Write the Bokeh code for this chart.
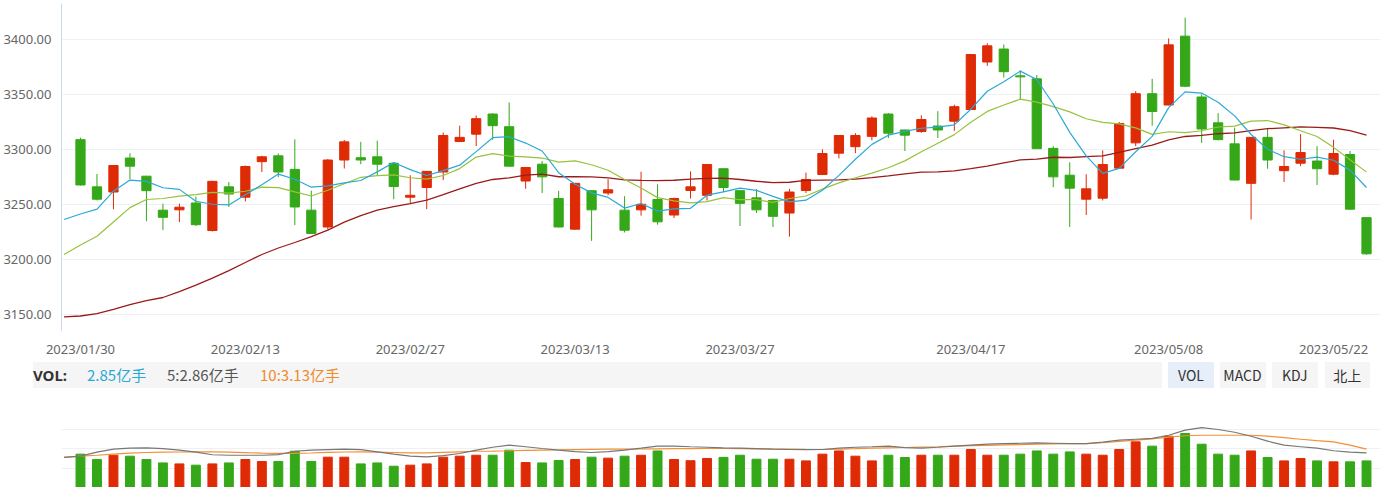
from bokeh.plotting import figure
from bokeh.layouts import column
from bokeh.models import (Range1d, FixedTicker, NumeralTickFormatter, Grid, ColumnDataSource, Div)
from bokeh.embed import file_html
from bokeh.resources import INLINE

# ---------------- data ----------------
dates = ["2023/01/30","2023/01/31","2023/02/01","2023/02/02","2023/02/03","2023/02/06","2023/02/07","2023/02/08","2023/02/09","2023/02/10",
         "2023/02/13","2023/02/14","2023/02/15","2023/02/16","2023/02/17","2023/02/20","2023/02/21","2023/02/22","2023/02/23","2023/02/24",
         "2023/02/27","2023/02/28","2023/03/01","2023/03/02","2023/03/03","2023/03/06","2023/03/07","2023/03/08","2023/03/09","2023/03/10",
         "2023/03/13","2023/03/14","2023/03/15","2023/03/16","2023/03/17","2023/03/20","2023/03/21","2023/03/22","2023/03/23","2023/03/24",
         "2023/03/27","2023/03/28","2023/03/29","2023/03/30","2023/03/31","2023/04/03","2023/04/04","2023/04/06","2023/04/07","2023/04/10",
         "2023/04/11","2023/04/12","2023/04/13","2023/04/14","2023/04/17","2023/04/18","2023/04/19","2023/04/20","2023/04/21","2023/04/24",
         "2023/04/25","2023/04/26","2023/04/27","2023/04/28","2023/05/04","2023/05/05","2023/05/08","2023/05/09","2023/05/10","2023/05/11",
         "2023/05/12","2023/05/15","2023/05/16","2023/05/17","2023/05/18","2023/05/19","2023/05/22","2023/05/23","2023/05/24"]

opens = [3308.8, 3265.9, 3261.2, 3292.1, 3275.6, 3244.7, 3245.0, 3251.2, 3226.2, 3265.9,
         3256.5, 3288.8, 3294.1, 3281.8, 3244.7, 3229.4, 3290.3, 3292.4, 3293.2, 3287.4,
         3256.5, 3265.3, 3279.4, 3307.1, 3313.8, 3332.1, 3320.6, 3271.2, 3286.5, 3255.3,
         3227.4, 3262.4, 3260.3, 3244.7, 3245.0, 3254.4, 3240.3, 3262.6, 3258.2, 3282.4,
         3262.4, 3255.9, 3253.5, 3242.1, 3262.6, 3277.1, 3296.5, 3302.4, 3311.8, 3332.1,
         3317.6, 3316.2, 3321.2, 3325.6, 3336.2, 3379.4, 3391.2, 3366.8, 3364.1, 3300.9,
         3276.5, 3254.7, 3255.6, 3282.9, 3305.9, 3350.6, 3340.3, 3402.9, 3347.6, 3324.1,
         3305.0, 3269.1, 3310.9, 3280.6, 3287.4, 3289.4, 3277.4, 3295.3, 3237.9]
highs = [3310.6, 3277.6, 3285.6, 3296.5, 3275.9, 3250.6, 3250.6, 3257.1, 3271.5, 3270.3,
         3285.3, 3294.1, 3296.2, 3309.1, 3262.4, 3291.2, 3308.5, 3306.8, 3307.9, 3287.6,
         3276.5, 3280.3, 3315.3, 3321.5, 3330.9, 3333.0, 3342.6, 3283.5, 3289.4, 3262.4,
         3269.5, 3262.6, 3272.9, 3257.4, 3279.7, 3268.2, 3256.2, 3280.0, 3286.2, 3282.6,
         3262.6, 3263.8, 3254.4, 3264.1, 3278.8, 3300.0, 3312.8, 3314.7, 3330.0, 3333.0,
         3317.8, 3330.9, 3334.7, 3340.6, 3386.4, 3396.5, 3395.3, 3371.8, 3367.6, 3302.9,
         3288.2, 3277.4, 3299.1, 3325.0, 3352.9, 3364.1, 3400.9, 3419.7, 3350.0, 3332.9,
         3319.7, 3311.0, 3319.1, 3299.1, 3313.8, 3302.9, 3308.8, 3298.5, 3238.0]
lows = [3267.1, 3253.5, 3245.6, 3272.9, 3234.7, 3226.5, 3233.8, 3230.3, 3225.3, 3247.6,
        3252.6, 3279.4, 3274.7, 3231.2, 3223.0, 3227.1, 3282.6, 3286.5, 3276.5, 3254.7,
        3251.2, 3245.6, 3272.1, 3307.0, 3302.9, 3308.8, 3284.5, 3264.1, 3260.3, 3229.0,
        3227.0, 3216.8, 3258.2, 3224.4, 3239.7, 3231.5, 3237.6, 3255.3, 3253.5, 3261.2,
        3230.3, 3242.1, 3229.4, 3220.6, 3260.3, 3277.0, 3291.8, 3296.5, 3308.2, 3310.3,
        3298.5, 3315.0, 3310.3, 3316.8, 3336.0, 3375.9, 3365.3, 3345.6, 3300.5, 3265.6,
        3229.4, 3240.3, 3253.5, 3282.8, 3302.9, 3321.5, 3340.0, 3356.5, 3305.9, 3308.2,
        3272.0, 3236.2, 3282.4, 3270.3, 3284.7, 3267.6, 3276.5, 3245.0, 3204.1]
closes = [3267.6, 3254.7, 3285.3, 3284.7, 3262.4, 3238.2, 3247.4, 3231.5, 3270.9, 3259.4,
          3284.4, 3293.2, 3279.4, 3247.6, 3223.5, 3290.3, 3306.8, 3290.3, 3286.5, 3266.2,
          3258.2, 3280.0, 3312.6, 3310.9, 3327.9, 3321.5, 3284.7, 3283.5, 3275.0, 3229.4,
          3269.1, 3245.0, 3263.2, 3226.5, 3250.0, 3234.1, 3255.3, 3265.9, 3286.2, 3265.3,
          3250.9, 3245.0, 3239.1, 3261.2, 3272.6, 3296.2, 3312.6, 3312.6, 3328.5, 3314.7,
          3312.9, 3327.1, 3317.6, 3338.8, 3386.2, 3394.1, 3370.6, 3365.9, 3300.6, 3275.0,
          3264.7, 3264.1, 3286.2, 3323.5, 3350.6, 3334.4, 3395.0, 3357.4, 3318.5, 3308.8,
          3272.1, 3310.9, 3290.3, 3284.4, 3297.1, 3282.4, 3296.2, 3245.6, 3205.0]

# moving-average lines (first point is the day before the visible window)
ma_x = list(range(-1, 79))
ma5 = [3236.2, 3241.2, 3245.6, 3262.0, 3272.1, 3270.9, 3265.1, 3263.6, 3252.8, 3250.1,
       3249.5, 3258.7, 3267.9, 3277.5, 3272.8, 3265.6, 3266.8, 3269.5, 3271.7, 3279.5,
       3288.0, 3281.6, 3276.2, 3280.7, 3285.6, 3297.9, 3310.6, 3311.5, 3305.7, 3298.5,
       3278.8, 3268.3, 3260.4, 3256.3, 3246.6, 3250.8, 3243.8, 3245.8, 3246.4, 3258.3,
       3261.4, 3264.7, 3262.7, 3257.3, 3252.3, 3253.8, 3262.8, 3276.3, 3291.0, 3304.5,
       3312.9, 3316.3, 3319.2, 3320.2, 3322.2, 3336.5, 3352.8, 3361.5, 3371.1, 3363.5,
       3341.2, 3315.4, 3294.1, 3278.1, 3282.7, 3297.8, 3311.8, 3337.9, 3352.2, 3351.2,
       3342.8, 3330.4, 3313.5, 3300.1, 3293.3, 3291.0, 3293.0, 3290.1, 3281.1, 3265.3]
ma10 = [3204.4, 3213.0, 3221.0, 3234.0, 3247.0, 3254.4, 3255.3, 3257.4, 3258.8, 3260.9,
        3260.2, 3261.9, 3265.7, 3265.2, 3261.4, 3257.6, 3262.8, 3268.7, 3274.6, 3276.1,
        3276.8, 3274.2, 3272.9, 3276.2, 3282.5, 3293.0, 3296.1, 3293.9, 3293.2, 3292.1,
        3288.4, 3289.5, 3286.0, 3281.0, 3272.6, 3264.8, 3256.1, 3253.1, 3251.4, 3252.5,
        3256.1, 3254.2, 3254.2, 3251.8, 3255.3, 3257.6, 3263.8, 3269.5, 3274.2, 3278.4,
        3283.3, 3289.5, 3297.8, 3305.6, 3313.4, 3324.7, 3334.5, 3340.3, 3345.6, 3342.9,
        3338.9, 3334.1, 3327.8, 3324.6, 3323.1, 3319.5, 3313.6, 3316.0, 3315.2, 3316.9,
        3320.3, 3321.1, 3325.7, 3326.2, 3322.2, 3316.9, 3311.7, 3301.8, 3290.6, 3279.3]
ma30 = [3147.6, 3148.5, 3150.6, 3154.4, 3158.8, 3162.4, 3165.3, 3170.6, 3176.5, 3182.9,
        3189.7, 3197.1, 3204.4, 3210.3, 3215.3, 3220.6, 3226.5, 3233.8, 3239.7, 3244.7,
        3247.9, 3250.6, 3253.8, 3258.8, 3264.1, 3269.1, 3272.6, 3274.1, 3276.5, 3277.4,
        3275.1, 3275.2, 3274.9, 3274.1, 3272.2, 3271.8, 3271.6, 3271.9, 3273.0, 3273.6,
        3273.8, 3272.6, 3271.0, 3269.7, 3270.1, 3271.8, 3272.0, 3272.2, 3272.9, 3274.3,
        3275.9, 3277.7, 3279.3, 3279.5, 3280.4, 3282.4, 3284.8, 3287.6, 3290.4, 3291.2,
        3292.8, 3292.6, 3293.3, 3294.0, 3297.3, 3300.6, 3303.9, 3308.6, 3311.7, 3312.7,
        3314.2, 3314.9, 3317.1, 3318.8, 3319.6, 3320.4, 3320.0, 3319.4, 3317.1, 3313.0]

# volume (亿手)
volumes = [3.42, 2.87, 3.31, 3.21, 2.87, 2.52, 2.42, 2.29, 2.42, 2.52,
           2.87, 2.67, 2.67, 3.72, 2.67, 3.11, 3.11, 2.42, 2.52, 2.18,
           2.29, 2.42, 3.11, 3.21, 3.31, 3.31, 3.83, 2.56, 2.52, 2.77,
           2.87, 3.11, 3.01, 3.21, 3.31, 3.75, 2.87, 2.75, 2.98, 3.09,
           3.31, 2.90, 2.90, 2.90, 2.73, 3.42, 3.75, 3.21, 2.73, 3.31,
           3.08, 3.31, 3.31, 3.31, 3.90, 3.31, 3.31, 3.42, 3.75, 3.42,
           3.65, 3.42, 3.31, 3.90, 4.68, 4.24, 5.26, 5.54, 4.44, 3.42,
           3.31, 3.75, 3.08, 2.73, 2.97, 2.73, 2.63, 2.63, 2.73]
vol_ma5 = [3.08, 3.21, 3.62, 3.93, 4.03, 4.06, 3.98, 3.83, 3.62, 3.36,
           3.31, 3.31, 3.31, 3.38, 3.72, 3.83, 3.88, 3.93, 3.88, 3.65,
           3.42, 3.21, 3.14, 3.26, 3.49, 3.83, 4.13, 4.34, 4.18, 4.00,
           3.83, 3.67, 3.59, 3.67, 3.83, 4.03, 4.24, 4.24, 4.18, 4.13,
           4.06, 4.03, 3.98, 3.93, 3.90, 3.88, 3.90, 4.03, 4.13, 4.18,
           4.24, 4.08, 4.03, 4.13, 4.24, 4.34, 4.44, 4.49, 4.54, 4.57,
           4.54, 4.51, 4.51, 4.65, 4.85, 4.95, 5.03, 5.36, 5.88, 6.15,
           5.95, 5.67, 5.26, 4.75, 4.34, 4.18, 4.03, 3.77, 3.62, 3.55]
vol_ma10 = [3.08, 3.21, 3.31, 3.42, 3.52, 3.59, 3.62, 3.64, 3.65, 3.65,
            3.62, 3.57, 3.52, 3.49, 3.49, 3.54, 3.60, 3.64, 3.65, 3.62,
            3.59, 3.56, 3.55, 3.60, 3.66, 3.72, 3.74, 3.77, 3.81, 3.83,
            3.85, 3.88, 3.91, 3.93, 3.93, 3.95, 3.97, 3.98, 3.99, 4.00,
            4.00, 3.99, 3.97, 3.95, 3.93, 3.91, 3.90, 3.94, 3.98, 4.03,
            4.07, 4.10, 4.14, 4.18, 4.24, 4.29, 4.33, 4.37, 4.40, 4.44,
            4.47, 4.49, 4.51, 4.59, 4.73, 4.85, 4.99, 5.16, 5.31, 5.36,
            5.36, 5.36, 5.36, 5.26, 5.11, 4.95, 4.80, 4.68, 4.34, 3.93]

price_ticks = [3150, 3200, 3250, 3300, 3350, 3400]
vol_ticks = [0, 2, 4, 6, 8]
date_tick_idx = [0, 10, 20, 30, 40, 54, 66, 76]

header_label = "VOL:"
header_values = ["2.85亿手", "5:2.86亿手", "10:3.13亿手"]
buttons = ["VOL", "MACD", "KDJ", "北上"]

# ---------------- styles ----------------
RED = "#df2a06"
GREEN = "#34a818"
C_MA5 = "#2aa9d6"
C_MA10 = "#97c23c"
C_MA30 = "#9b1b1b"
C_VMA5 = "#777777"
C_VMA10 = "#f39035"
GRID = "#edf1f5"
LABEL = "#666666"
FONT = "Noto Sans"
CJK = "Noto Sans CJK SC"

W = 1380
xs = list(range(len(closes)))
colors = [RED if c >= o else GREEN for o, c in zip(opens, closes)]
src = ColumnDataSource(dict(
    x=xs, open=opens, high=highs, low=lows, close=closes,
    top=[max(o, c) for o, c in zip(opens, closes)],
    bottom=[min(o, c) for o, c in zip(opens, closes)],
    color=colors, vol=volumes,
))

x_range = Range1d(-1.1515, 78.848)

# ---------------- main candlestick ----------------
p = figure(width=W, height=360, x_range=x_range, y_range=Range1d(3135.3, 3432.6),
           output_backend="svg", toolbar_location=None,
           min_border_left=60, min_border_right=0, min_border_top=3, min_border_bottom=20)
p.outline_line_color = None
p.background_fill_color = "white"
p.xgrid.visible = False
p.ygrid.ticker = FixedTicker(ticks=price_ticks)
p.ygrid.grid_line_color = GRID
p.ygrid.grid_line_width = 1

p.yaxis.ticker = FixedTicker(ticks=price_ticks)
p.yaxis.formatter = NumeralTickFormatter(format="0.00")
p.yaxis.axis_line_color = "#c9d8ec"
p.yaxis.major_tick_line_color = None
p.yaxis.minor_tick_line_color = None
p.yaxis.major_label_text_font = FONT
p.yaxis.major_label_text_font_size = "13px"
p.yaxis.major_label_text_color = LABEL
p.yaxis.major_label_standoff = 4

p.xaxis.ticker = FixedTicker(ticks=date_tick_idx)
p.xaxis.major_label_overrides = {i: dates[i] for i in date_tick_idx}
p.xaxis.axis_line_color = None
p.xaxis.major_tick_line_color = None
p.xaxis.minor_tick_line_color = None
p.xaxis.major_label_text_font = FONT
p.xaxis.major_label_text_font_size = "13px"
p.xaxis.major_label_text_color = LABEL
p.xaxis.major_label_standoff = 3

p.segment(x0="x", y0="low", x1="x", y1="high", line_color="color", line_width=1, source=src)
p.vbar(x="x", width=0.56, top="top", bottom="bottom", fill_color="color",
       line_color="color", line_width=1, source=src)

p.line(ma_x, ma30, line_color=C_MA30, line_width=1.3)
p.line(ma_x, ma10, line_color=C_MA10, line_width=1.2)
p.line(ma_x, ma5, line_color=C_MA5, line_width=1.2)

# ---------------- VOL header strip (HTML) ----------------
btn_left = [1168, 1219.5, 1271.7, 1324.5]
btn_right = [1214, 1265.5, 1317.8, 1370]
btn_fill = ["#e6eef9", "#f5f5f5", "#f5f5f5", "#f5f5f5"]
val_left = [87, 167, 260]
val_color = [C_MA5, "#555555", "#f08a2c"]

parts = ['<div style="position:relative;width:%dpx;height:49px;margin:0;padding:0;'
         'font-family:\'%s\',\'Noto Sans\',sans-serif;">' % (W, CJK)]
parts.append('<div style="position:absolute;left:33px;top:1.7px;width:1129px;height:26px;'
             'background:#f5f5f5;"></div>')
for l, r, f, t in zip(btn_left, btn_right, btn_fill, buttons):
    parts.append('<div style="position:absolute;left:%.1fpx;top:1.7px;width:%.1fpx;height:26px;'
                 'line-height:26px;text-align:center;background:%s;color:#333333;font-size:14px;">%s</div>'
                 % (l, r - l, f, t))
parts.append('<div style="position:absolute;left:33px;top:1.7px;height:26px;line-height:26px;'
             'font-family:\'Noto Sans\',sans-serif;font-weight:bold;font-size:15px;color:#333333;">%s</div>'
             % header_label)
for l, t, c in zip(val_left, header_values, val_color):
    parts.append('<div style="position:absolute;left:%dpx;top:1.7px;height:26px;line-height:26px;'
                 'white-space:nowrap;font-size:15px;color:%s;">%s</div>' % (l, c, t))
parts.append('</div>')
header = Div(text="".join(parts), width=W, height=49, margin=(0, 0, 0, 0))

# ---------------- volume panel ----------------
pv = figure(width=W, height=78, x_range=x_range, y_range=Range1d(0, 8),
            x_axis_location=None, y_axis_location=None,
            output_backend="svg", toolbar_location=None,
            min_border_left=60, min_border_right=0, min_border_top=0, min_border_bottom=0)
pv.outline_line_color = None
pv.xgrid.visible = False
pv.ygrid.visible = False
pv.add_layout(Grid(dimension=1, ticker=FixedTicker(ticks=vol_ticks), grid_line_color=GRID), "center")
pv.vbar(x="x", width=0.54, top="vol", bottom=0, fill_color="color", line_color="color",
        line_width=1, source=src)
pv.line(ma_x, vol_ma10, line_color=C_VMA10, line_width=1.2)
pv.line(ma_x, vol_ma5, line_color=C_VMA5, line_width=1.2)

layout = column(p, header, pv, spacing=0)
open("out.html", "w").write(file_html(layout, INLINE))
